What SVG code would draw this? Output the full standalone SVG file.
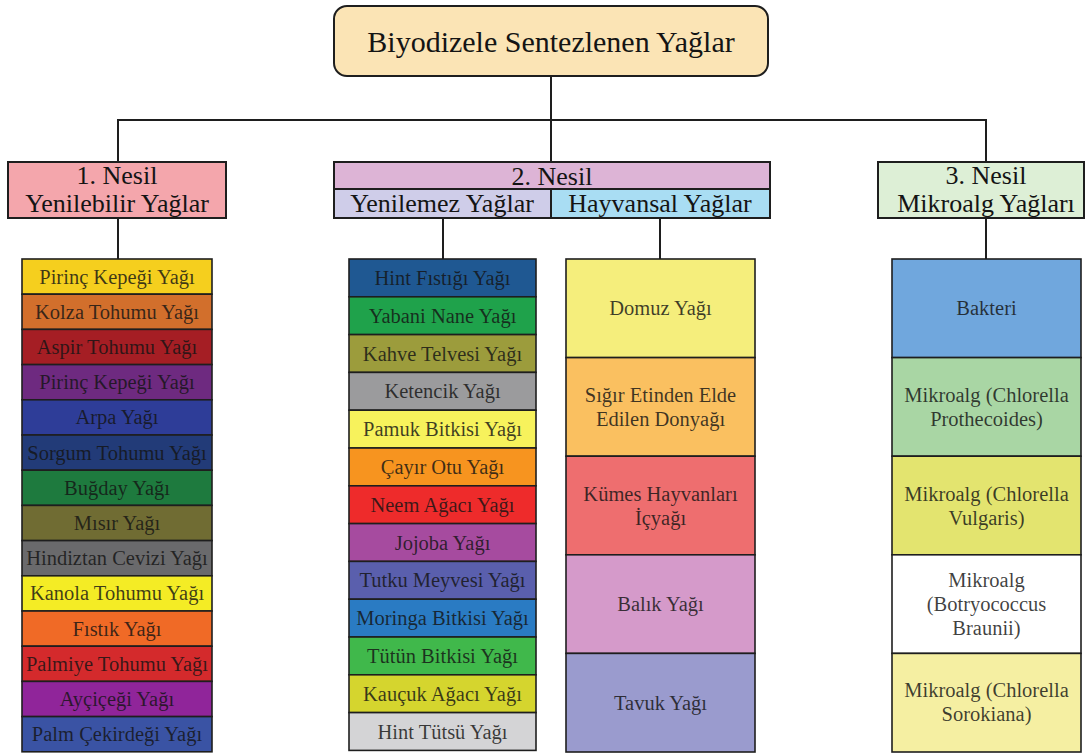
<svg xmlns="http://www.w3.org/2000/svg" width="1086" height="756" viewBox="0 0 1086 756">
  <style>
    .box { stroke: #1e1e1e; stroke-width: 2; }
    .cell { stroke: #1e1e1e; stroke-width: 1.6; }
    .link { stroke: #1e1e1e; stroke-width: 2; fill: none; }
    text { font-family: "Liberation Serif", "Times New Roman", serif; text-anchor: middle; dominant-baseline: central; fill: #141414; }
    .title { font-size: 30px; }
    .head { font-size: 26px; }
    .item { font-size: 20.5px; fill-opacity: 0.82; }
  </style>
  <rect width="1086" height="756" fill="#ffffff"/>

  <!-- connectors -->
  <g id="connectors">
    <line class="link" x1="551" y1="76" x2="551" y2="120"/>
    <line class="link" x1="117" y1="120" x2="987" y2="120"/>
    <line class="link" x1="118" y1="120" x2="118" y2="162"/>
    <line class="link" x1="551" y1="120" x2="551" y2="162"/>
    <line class="link" x1="986" y1="120" x2="986" y2="162"/>
    <line class="link" x1="118" y1="218" x2="118" y2="260"/>
    <line class="link" x1="443" y1="218" x2="443" y2="260"/>
    <line class="link" x1="660" y1="218" x2="660" y2="260"/>
    <line class="link" x1="986" y1="218" x2="986" y2="260"/>
  </g>

  <!-- root -->
  <g id="root">
    <rect class="box" x="334" y="6" width="434" height="70" rx="13" fill="#FBE4B5"/>
    <text class="title" x="551" y="41">Biyodizele Sentezlenen Yağlar</text>
  </g>

  <!-- generation headers -->
  <g id="gen1">
    <rect class="box" x="8" y="162" width="218" height="56" fill="#F4A6AC"/>
    <text class="head" x="117" y="175">1. Nesil</text>
    <text class="head" x="117" y="203">Yenilebilir Yağlar</text>
  </g>
  <g id="gen2">
    <rect class="box" x="334" y="162" width="436" height="27" fill="#DDB4D6"/>
    <text class="head" x="552" y="176">2. Nesil</text>
  </g>
  <g id="gen2-nonrenewable">
    <rect class="box" x="334" y="189" width="217" height="29" fill="#CFCDE9"/>
    <text class="head" x="442" y="203">Yenilemez Yağlar</text>
  </g>
  <g id="gen2-animal">
    <rect class="box" x="551" y="189" width="219" height="29" fill="#A9DDF3"/>
    <text class="head" x="660" y="203">Hayvansal Yağlar</text>
  </g>
  <g id="gen3">
    <rect class="box" x="878" y="162" width="206" height="56" fill="#DDEFD6"/>
    <text class="head" x="986" y="175">3. Nesil</text>
    <text class="head" x="986" y="203">Mikroalg Yağları</text>
  </g>

  <!-- 1st generation list -->
  <g id="list1">
    <rect class="cell" x="22" y="259" width="190" height="35.2" fill="#F5CF1E"/>
    <text class="item" x="117" y="276.6">Pirinç Kepeği Yağı</text>
    <rect class="cell" x="22" y="294.2" width="190" height="35.2" fill="#D26F2C"/>
    <text class="item" x="117" y="311.8">Kolza Tohumu Yağı</text>
    <rect class="cell" x="22" y="329.4" width="190" height="35.2" fill="#A51E24"/>
    <text class="item" x="117" y="347">Aspir Tohumu Yağı</text>
    <rect class="cell" x="22" y="364.6" width="190" height="35.2" fill="#6E2A80"/>
    <text class="item" x="117" y="382.2">Pirinç Kepeği Yağı</text>
    <rect class="cell" x="22" y="399.8" width="190" height="35.2" fill="#2E3D98"/>
    <text class="item" x="117" y="417.4">Arpa Yağı</text>
    <rect class="cell" x="22" y="435" width="190" height="35.2" fill="#223B78"/>
    <text class="item" x="117" y="452.6">Sorgum Tohumu Yağı</text>
    <rect class="cell" x="22" y="470.2" width="190" height="35.2" fill="#1E7A3E"/>
    <text class="item" x="117" y="487.8">Buğday Yağı</text>
    <rect class="cell" x="22" y="505.4" width="190" height="35.2" fill="#706C33"/>
    <text class="item" x="117" y="523">Mısır Yağı</text>
    <rect class="cell" x="22" y="540.6" width="190" height="35.2" fill="#6A6A6C"/>
    <text class="item" x="117" y="558.2">Hindiztan Cevizi Yağı</text>
    <rect class="cell" x="22" y="575.8" width="190" height="35.2" fill="#F4EC25"/>
    <text class="item" x="117" y="593.4">Kanola Tohumu Yağı</text>
    <rect class="cell" x="22" y="611" width="190" height="35.2" fill="#F06A26"/>
    <text class="item" x="117" y="628.6">Fıstık Yağı</text>
    <rect class="cell" x="22" y="646.2" width="190" height="35.2" fill="#D42A2C"/>
    <text class="item" x="117" y="663.8">Palmiye Tohumu Yağı</text>
    <rect class="cell" x="22" y="681.4" width="190" height="35.2" fill="#90259A"/>
    <text class="item" x="117" y="699">Ayçiçeği Yağı</text>
    <rect class="cell" x="22" y="716.6" width="190" height="35.2" fill="#3A53A4"/>
    <text class="item" x="117" y="734.2">Palm Çekirdeği Yağı</text>
  </g>

  <!-- 2nd generation, non-renewable list -->
  <g id="list2">
    <rect class="cell" x="349" y="259" width="187" height="37.8" fill="#1F5892"/>
    <text class="item" x="442.5" y="277.9">Hint Fıstığı Yağı</text>
    <rect class="cell" x="349" y="296.8" width="187" height="37.8" fill="#1FA24B"/>
    <text class="item" x="442.5" y="315.7">Yabani Nane Yağı</text>
    <rect class="cell" x="349" y="334.6" width="187" height="37.8" fill="#9C9C3C"/>
    <text class="item" x="442.5" y="353.5">Kahve Telvesi Yağı</text>
    <rect class="cell" x="349" y="372.4" width="187" height="37.8" fill="#9B9B9D"/>
    <text class="item" x="442.5" y="391.3">Ketencik Yağı</text>
    <rect class="cell" x="349" y="410.2" width="187" height="37.8" fill="#F7F25C"/>
    <text class="item" x="442.5" y="429.1">Pamuk Bitkisi Yağı</text>
    <rect class="cell" x="349" y="448" width="187" height="37.8" fill="#F7941F"/>
    <text class="item" x="442.5" y="466.9">Çayır Otu Yağı</text>
    <rect class="cell" x="349" y="485.8" width="187" height="37.8" fill="#EE2B2B"/>
    <text class="item" x="442.5" y="504.7">Neem Ağacı Yağı</text>
    <rect class="cell" x="349" y="523.6" width="187" height="37.8" fill="#A64B9F"/>
    <text class="item" x="442.5" y="542.5">Jojoba Yağı</text>
    <rect class="cell" x="349" y="561.4" width="187" height="37.8" fill="#5A5FAD"/>
    <text class="item" x="442.5" y="580.3">Tutku Meyvesi Yağı</text>
    <rect class="cell" x="349" y="599.2" width="187" height="37.8" fill="#2A7BC3"/>
    <text class="item" x="442.5" y="618.1">Moringa Bitkisi Yağı</text>
    <rect class="cell" x="349" y="637" width="187" height="37.8" fill="#40B84B"/>
    <text class="item" x="442.5" y="655.9">Tütün Bitkisi Yağı</text>
    <rect class="cell" x="349" y="674.8" width="187" height="37.8" fill="#D5D52E"/>
    <text class="item" x="442.5" y="693.7">Kauçuk Ağacı Yağı</text>
    <rect class="cell" x="349" y="712.6" width="187" height="37.8" fill="#D4D4D6"/>
    <text class="item" x="442.5" y="731.5">Hint Tütsü Yağı</text>
  </g>

  <!-- 2nd generation, animal fats -->
  <g id="list3">
    <rect class="cell" x="566" y="259" width="189" height="98.6" fill="#F5EE7C"/>
    <text class="item" x="660.5" y="308.3">Domuz Yağı</text>
    <rect class="cell" x="566" y="357.6" width="189" height="98.6" fill="#FAC060"/>
    <text class="item" x="660.5" y="395">Sığır Etinden Elde</text>
    <text class="item" x="660.5" y="419">Edilen Donyağı</text>
    <rect class="cell" x="566" y="456.2" width="189" height="98.6" fill="#EE6E6F"/>
    <text class="item" x="660.5" y="494">Kümes Hayvanları</text>
    <text class="item" x="660.5" y="518">İçyağı</text>
    <rect class="cell" x="566" y="554.8" width="189" height="98.6" fill="#D59ACA"/>
    <text class="item" x="660.5" y="604.1">Balık Yağı</text>
    <rect class="cell" x="566" y="653.4" width="189" height="98.6" fill="#9A9BCE"/>
    <text class="item" x="660.5" y="702.7">Tavuk Yağı</text>
  </g>

  <!-- 3rd generation, microalgae -->
  <g id="list4">
    <rect class="cell" x="892" y="259" width="189" height="98.6" fill="#70A7DD"/>
    <text class="item" x="986.5" y="308.3">Bakteri</text>
    <rect class="cell" x="892" y="357.6" width="189" height="98.6" fill="#A9D6A4"/>
    <text class="item" x="986.5" y="395">Mikroalg (Chlorella</text>
    <text class="item" x="986.5" y="419">Prothecoides)</text>
    <rect class="cell" x="892" y="456.2" width="189" height="98.6" fill="#E3E46F"/>
    <text class="item" x="986.5" y="494">Mikroalg (Chlorella</text>
    <text class="item" x="986.5" y="518">Vulgaris)</text>
    <rect class="cell" x="892" y="554.8" width="189" height="98.6" fill="#FFFFFF"/>
    <text class="item" x="986.5" y="580">Mikroalg</text>
    <text class="item" x="986.5" y="604">(Botryococcus</text>
    <text class="item" x="986.5" y="628">Braunii)</text>
    <rect class="cell" x="892" y="653.4" width="189" height="98.6" fill="#F5EFA2"/>
    <text class="item" x="986.5" y="690">Mikroalg (Chlorella</text>
    <text class="item" x="986.5" y="714">Sorokiana)</text>
  </g>
</svg>
